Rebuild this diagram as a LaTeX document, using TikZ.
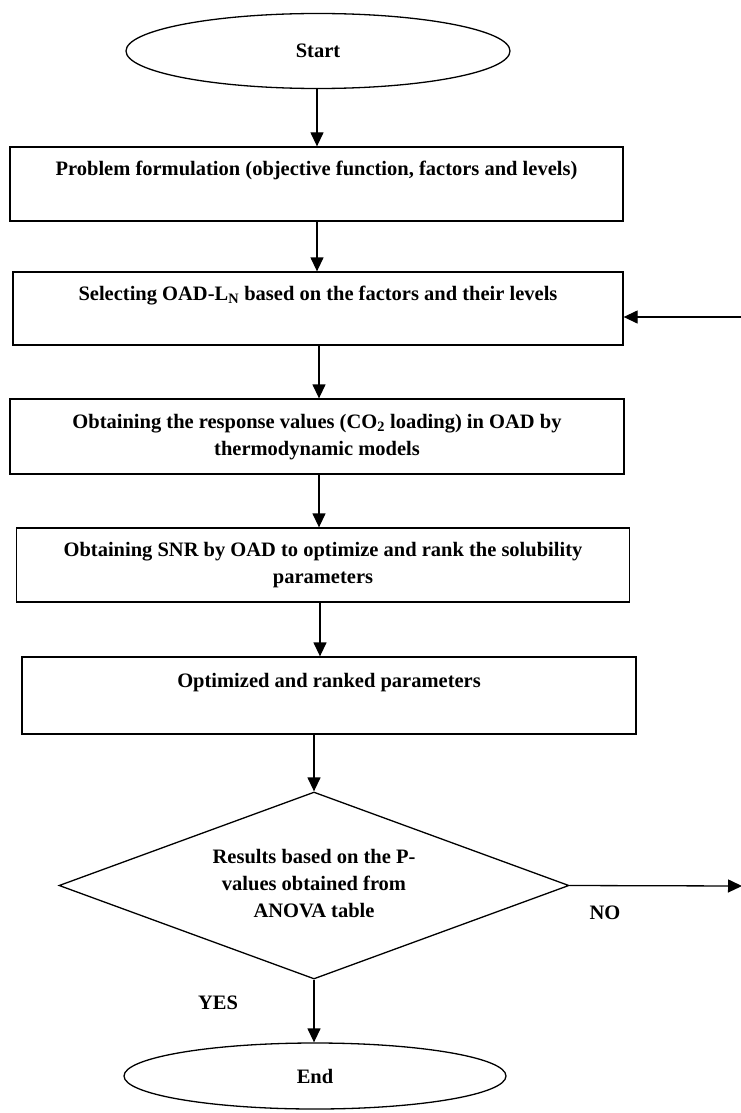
\documentclass[tikz,border=0pt]{standalone}
\usepackage{fontspec}
\setmainfont{Liberation Serif}
\usetikzlibrary{shapes.geometric,arrows.meta}
\begin{document}
\begin{tikzpicture}[x=1pt,y=-1pt,
  every node/.style={font=\bfseries\fontsize{20.5}{27}\selectfont},
  box/.style={draw, line width=1.3pt, rectangle, inner sep=0pt, align=center},
  oval/.style={draw, line width=1.3pt, ellipse, inner sep=0pt},
  decision/.style={draw, line width=1.3pt, diamond, inner sep=0pt, align=center, aspect=2.73},
  flow/.style={line width=1.3pt, -{Triangle[length=14pt,width=13pt]}}]
\useasboundingbox (0,0) rectangle (740,1113);

\node[oval, minimum width=384pt, minimum height=75pt] (start) at (318,51) {Start};
\node[box, minimum width=613pt, minimum height=74pt] (b1) at (316.5,184)
  {\strut Problem formulation (objective function, factors and levels)\\ \strut};
\node[box, minimum width=610pt, minimum height=73pt] (b2) at (318,308.5)
  {\strut Selecting OAD-L\textsubscript{N} based on the factors and their levels\\ \strut};
\node[box, minimum width=614pt, minimum height=75pt] (b3) at (317,436.5)
  {\strut Obtaining the response values (CO\textsubscript{2} loading) in OAD by\\ \strut thermodynamic models};
\node[box, minimum width=613pt, minimum height=74pt] (b4) at (323,565)
  {\strut Obtaining SNR by OAD to optimize and rank the solubility\\ \strut parameters};
\node[box, minimum width=614pt, minimum height=77pt] (b5) at (329,695.5)
  {\strut Optimized and ranked parameters\\ \strut};
\node[decision, minimum width=510pt, minimum height=187pt] (dia) at (314,885.5)
  {\strut Results based on the P-\\ \strut values obtained from\\ \strut ANOVA table};
\node[oval, minimum width=382pt, minimum height=66pt] (end) at (315,1076) {End};

\node (no) at (605,913) {NO};
\node (yes) at (218,1003) {YES};

\coordinate (fb) at (741,317);
\coordinate (noend) at (742,886);

\draw[flow] (317,0 |- start.south) -- (317,0 |- b1.north);
\draw[flow] (317,0 |- b1.south) -- (317,0 |- b2.north);
\draw[flow] (319,0 |- b2.south) -- (319,0 |- b3.north);
\draw[flow] (319,0 |- b3.south) -- (319,0 |- b4.north);
\draw[flow] (320,0 |- b4.south) -- (320,0 |- b5.north);
\draw[flow] (dia.north |- b5.south) -- (dia.north);
\draw[flow] (dia.south) -- (dia.south |- end.north);
\draw[flow] (fb) -- (fb -| b2.east);
\draw[flow] (dia.east) -- (noend);
\end{tikzpicture}
\end{document}
